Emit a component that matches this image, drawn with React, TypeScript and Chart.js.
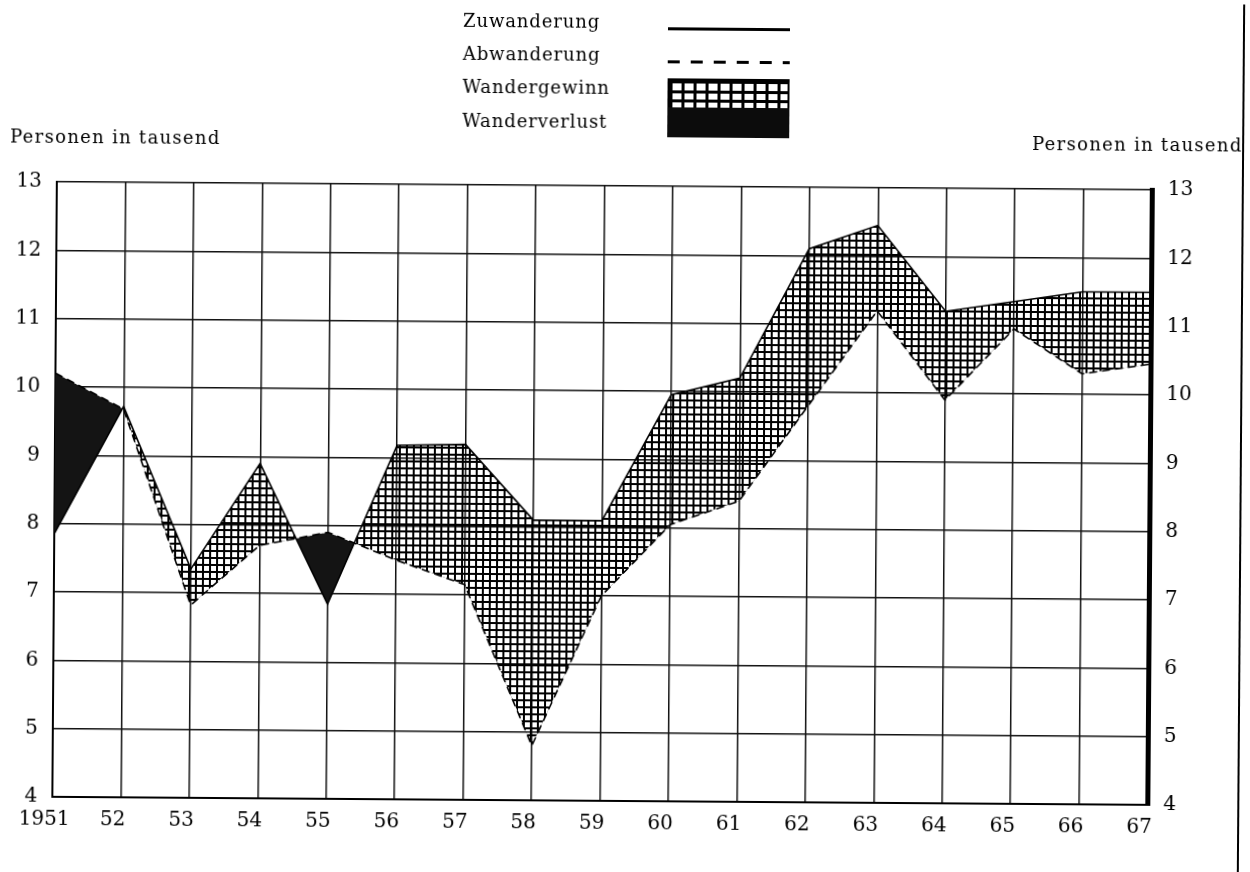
import React, { useEffect, useRef } from 'react';
import { Chart, registerables } from 'chart.js';

Chart.register(...registerables);

// ---- data ----
const years = [1951, 1952, 1953, 1954, 1955, 1956, 1957, 1958, 1959, 1960, 1961, 1962, 1963, 1964, 1965, 1966, 1967];
const xTickLabels = ['1951', '52', '53', '54', '55', '56', '57', '58', '59', '60', '61', '62', '63', '64', '65', '66', '67'];
// Personen in tausend
const zuwanderung = [7.85, 9.72, 7.35, 8.9, 6.85, 9.18, 9.2, 8.1, 8.1, 9.95, 10.2, 12.1, 12.45, 11.2, 11.35, 11.5, 11.5];
const abwanderung = [10.2, 9.68, 6.82, 7.7, 7.9, 7.5, 7.15, 4.8, 7.0, 8.05, 8.4, 9.8, 11.2, 9.9, 10.95, 10.3, 10.45];
const yMin = 4;
const yMax = 13;

const legendLabels = ['Zuwanderung', 'Abwanderung', 'Wandergewinn', 'Wanderverlust'];
const axisTitle = 'Personen in tausend';

const FONT = "'DejaVu Serif', 'Liberation Serif', serif";

function makeHatch(): CanvasPattern | string {
  const c = document.createElement('canvas');
  c.width = 7;
  c.height = 7;
  const g = c.getContext('2d');
  if (!g) return '#555';
  g.fillStyle = '#000';
  g.fillRect(0, 0, 7, 2);
  g.fillRect(0, 0, 2, 7);
  return g.createPattern(c, 'repeat') || '#555';
}

export default function App() {
  const canvasRef = useRef<HTMLCanvasElement | null>(null);

  useEffect(() => {
    const canvas = canvasRef.current;
    if (!canvas) return;
    const hatch = makeHatch();
    const tickFont = { family: FONT, size: 20 };
    const chart = new Chart(canvas, {
      type: 'line',
      data: {
        datasets: [
          {
            label: legendLabels[0],
            data: years.map((yr, i) => ({ x: yr, y: zuwanderung[i] })),
            borderColor: '#000',
            borderWidth: 1.6,
            pointRadius: 0,
            tension: 0,
            fill: { target: 1, above: hatch as any, below: '#141414' },
          },
          {
            label: legendLabels[1],
            data: years.map((yr, i) => ({ x: yr, y: abwanderung[i] })),
            borderColor: '#000',
            borderWidth: 1.6,
            borderDash: [8, 5],
            pointRadius: 0,
            tension: 0,
            fill: false,
          },
        ],
      },
      options: {
        responsive: false,
        animation: false,
        devicePixelRatio: 1,
        layout: { padding: { top: 186, left: 0, right: 0, bottom: 0 } },
        plugins: {
          legend: { display: false },
          tooltip: { enabled: false },
          filler: { drawTime: 'beforeDatasetsDraw' },
        },
        scales: {
          x: {
            type: 'linear',
            min: years[0],
            max: years[years.length - 1],
            afterFit: (s: any) => {
              s.height = 71;
            },
            ticks: {
              stepSize: 1,
              autoSkip: false,
              maxRotation: 0,
              padding: 11,
              labelOffset: -8,
              color: '#000',
              font: tickFont,
              callback: (_v: any, i: number) => xTickLabels[i],
            },
            grid: { color: '#111', lineWidth: 1.5, drawTicks: false },
            border: { color: '#000', width: 2 },
          },
          y: {
            position: 'left',
            min: yMin,
            max: yMax,
            afterFit: (s: any) => {
              s.width = 55;
            },
            ticks: { stepSize: 1, padding: 15, color: '#000', font: tickFont },
            grid: { color: '#111', lineWidth: 1.5, drawTicks: false },
            border: { color: '#000', width: 2 },
          },
          y2: {
            position: 'right',
            min: yMin,
            max: yMax,
            afterFit: (s: any) => {
              s.width = 100;
            },
            ticks: { stepSize: 1, padding: 16, color: '#000', font: tickFont },
            grid: { display: false, drawTicks: false },
            border: { color: '#000', width: 5 },
          },
        },
      },
    } as any);
    return () => chart.destroy();
  }, []);

  const textStyle: React.CSSProperties = {
    position: 'absolute',
    fontFamily: FONT,
    fontSize: 18,
    letterSpacing: '0.9px',
    lineHeight: '22px',
    color: '#000',
    whiteSpace: 'nowrap',
  };

  return (
    <div
      style={{
        position: 'absolute',
        left: 0,
        top: 0,
        width: 1250,
        height: 872,
        background: '#fff',
        transform: 'rotate(0.42deg)',
        transformOrigin: '625px 436px',
      }}
    >
      <canvas ref={canvasRef} width={1250} height={872} style={{ position: 'absolute', left: 0, top: 0 }} />
      {legendLabels.map((t, i) => (
        <div key={t} style={{ ...textStyle, left: 460, top: [11, 44, 77, 111][i] }}>
          {t}
        </div>
      ))}
      <div style={{ position: 'absolute', left: 665, top: 27, width: 122, height: 3, background: '#000' }} />
      <div
        style={{
          position: 'absolute',
          left: 665,
          top: 60,
          width: 122,
          height: 3,
          backgroundImage: 'repeating-linear-gradient(to right, #000 0 12px, transparent 12px 23px)',
        }}
      />
      <div
        style={{
          position: 'absolute',
          left: 665,
          top: 78,
          width: 118,
          height: 27,
          border: '2px solid #000',
          borderBottom: 'none',
          backgroundImage:
            'repeating-linear-gradient(to right, #000 0 3px, transparent 3px 12px), repeating-linear-gradient(to bottom, #000 0 3px, transparent 3px 9.5px)',
        }}
      />
      <div style={{ position: 'absolute', left: 665, top: 107, width: 122, height: 30, background: '#0c0c0c' }} />
      <div style={{ ...textStyle, left: 8, top: 130, letterSpacing: '1.3px' }}>{axisTitle}</div>
      <div style={{ ...textStyle, left: 1030, top: 130, letterSpacing: '1.3px' }}>{axisTitle}</div>
      <div style={{ position: 'absolute', left: 1240, top: 0, width: 2, height: 872, background: '#000' }} />
    </div>
  );
}
